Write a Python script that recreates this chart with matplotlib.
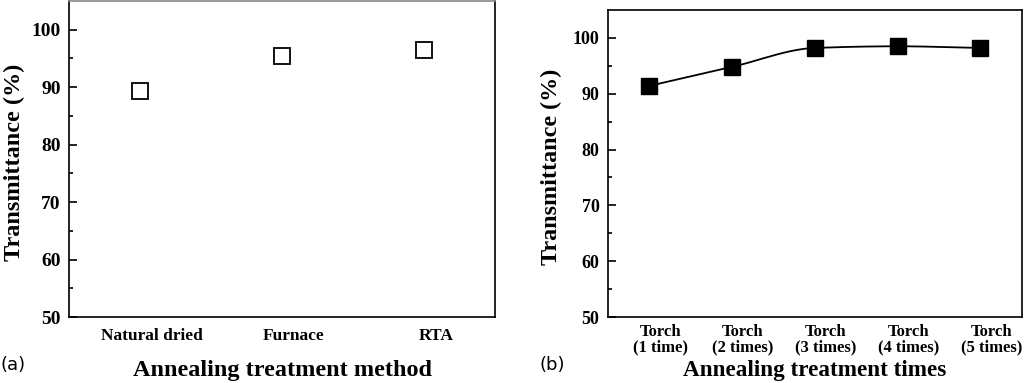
import numpy as np
import matplotlib
matplotlib.use("Agg")
import matplotlib.pyplot as plt
import matplotlib.transforms as mtransforms

# panel (a) data
methods = ["Natural dried", "Furnace", "RTA"]
method_values = [89.4, 95.4, 96.4]

# panel (b) data
torch_labels = ["Torch\n(1 time)", "Torch\n(2 times)", "Torch\n(3 times)",
                "Torch\n(4 times)", "Torch\n(5 times)"]
torch_counts = [1, 2, 3, 4, 5]
torch_values = [91.4, 94.8, 98.2, 98.5, 98.2]

plt.rcParams['font.family'] = ['Liberation Serif', 'DejaVu Serif']
plt.rcParams['font.weight'] = 'bold'


def pchip_line(x, y, n=200):
    # shape-preserving cubic, only used to draw the smooth connecting line
    x = np.asarray(x, float)
    y = np.asarray(y, float)
    h = np.diff(x)
    delta = np.diff(y) / h
    d = np.zeros_like(y)
    for i in range(1, len(x) - 1):
        if delta[i - 1] * delta[i] > 0:
            w1 = 2 * h[i] + h[i - 1]
            w2 = h[i] + 2 * h[i - 1]
            d[i] = (w1 + w2) / (w1 / delta[i - 1] + w2 / delta[i])
    d[0] = delta[0]
    d[-1] = delta[-1]
    xs = np.linspace(x[0], x[-1], n)
    ys = np.empty_like(xs)
    for j, xv in enumerate(xs):
        i = min(np.searchsorted(x, xv, side='right') - 1, len(x) - 2)
        t = (xv - x[i]) / h[i]
        h00 = 2 * t ** 3 - 3 * t ** 2 + 1
        h10 = t ** 3 - 2 * t ** 2 + t
        h01 = -2 * t ** 3 + 3 * t ** 2
        h11 = t ** 3 - t ** 2
        ys[j] = h00 * y[i] + h10 * h[i] * d[i] + h01 * y[i + 1] + h11 * h[i] * d[i + 1]
    return xs, ys


def style_axis(ax, fs):
    ax.set_ylim(50, 105)
    ax.set_yticks([50, 60, 70, 80, 90, 100])
    ax.set_yticks([55, 65, 75, 85, 95], minor=True)
    ax.tick_params(axis='y', which='major', direction='in', length=6, width=1.2,
                   labelsize=fs, pad=6, right=False)
    ax.tick_params(axis='y', which='minor', direction='in', length=3, width=1.2, right=False)
    ax.tick_params(axis='x', length=0)
    for s in ax.spines.values():
        s.set_linewidth(1.2)
    for lab in ax.get_yticklabels():
        lab.set_fontweight('bold')


fig = plt.figure(figsize=(10.24, 3.83), dpi=100)

# (a)
ax1 = fig.add_axes([0.0674, 0.1723, 0.416, 0.8251])
ax1.plot([0.5, 1.5, 2.5], method_values, linestyle='none', marker='s', markersize=12,
         markerfacecolor='white', markeredgecolor='black', markeredgewidth=1.3)
ax1.set_xlim(0, 3)
ax1.set_xticks([0.5, 1.5, 2.5])
ax1.set_xticklabels(methods, fontsize=12.5, fontweight='bold')
ax1.tick_params(axis='x', pad=8)
style_axis(ax1, 14)
ax1.spines['top'].set_color('#888888')
off = mtransforms.ScaledTranslation(12 / 100, 0, fig.dpi_scale_trans)
for lab in ax1.get_xticklabels():
    lab.set_transform(lab.get_transform() + off)
ax1.set_ylabel("Transmittance (%)", fontsize=17.5, fontweight='bold')
ax1.yaxis.set_label_coords(-0.103, 0.49)
ax1.set_xlabel("Annealing treatment method", fontsize=17.5, fontweight='bold')
ax1.xaxis.set_label_coords(0.5, -0.135)

# (b)
ax2 = fig.add_axes([0.5935, 0.1723, 0.4043, 0.8016])
xs, ys = pchip_line(torch_counts, torch_values)
ax2.plot(xs, ys, color='black', linewidth=1.3)
ax2.plot(torch_counts, torch_values, linestyle='none', marker='s', markersize=12,
         color='black')
ax2.set_xlim(0.5, 5.5)
ax2.set_xticks(torch_counts)
ax2.set_xticklabels(torch_labels, fontsize=12, fontweight='bold', linespacing=0.95)
ax2.tick_params(axis='x', pad=5)
style_axis(ax2, 13)
off2 = mtransforms.ScaledTranslation(11 / 100, 0, fig.dpi_scale_trans)
for lab in ax2.get_xticklabels():
    lab.set_transform(lab.get_transform() + off2)
ax2.set_ylabel("Transmittance (%)", fontsize=17.4, fontweight='bold')
ax2.yaxis.set_label_coords(-0.11, 0.49)
ax2.set_xlabel("Annealing treatment times", fontsize=16.7, fontweight='bold')
ax2.xaxis.set_label_coords(0.5, -0.14)

fig.text(0.0, 0.047, "(a)", fontsize=13, family='DejaVu Sans', fontweight='normal', va='center')
fig.text(0.527, 0.047, "(b)", fontsize=13, family='DejaVu Sans', fontweight='normal', va='center')

fig.savefig("out.png", dpi=100)
